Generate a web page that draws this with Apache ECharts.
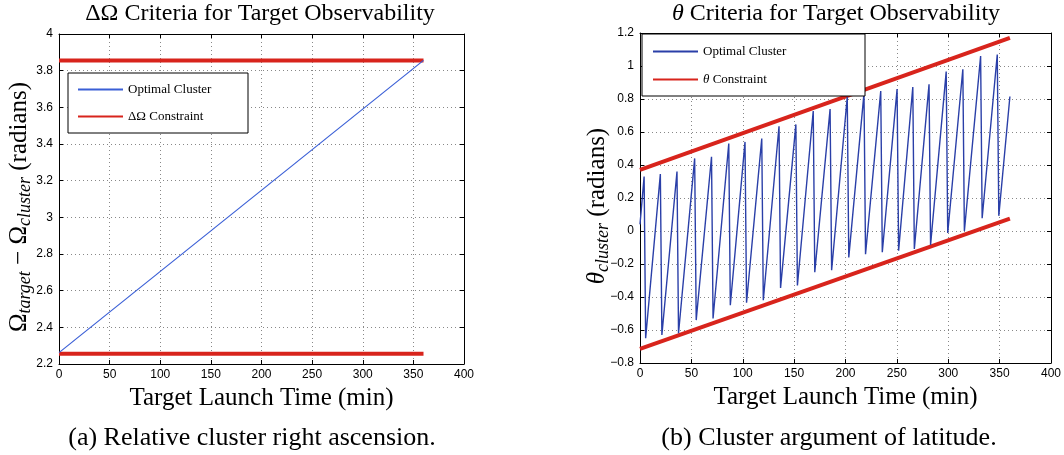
<!DOCTYPE html>
<html>
<head>
<meta charset="utf-8">
<script src="https://cdn.jsdelivr.net/npm/echarts@6/dist/echarts.min.js"></script>
<style>
  html, body { margin: 0; padding: 0; background: #fff; }
  #main { width: 1064px; height: 455px; }
</style>
</head>
<body>
<div id="main"></div>
<script>
// left chart: delta Omega
var omegaTime = [0, 360];
var omegaCluster = [2.262, 3.856];
var omegaUpper = [3.855, 3.855];
var omegaLower = [2.256, 2.256];

// right chart: theta (peak / trough corners)
var thetaTime = [0, 4, 5.5, 19.8, 21.3, 36, 37.5, 53.2, 54.7, 69.6, 71.1, 86.4, 87.9,
  102.2, 103.7, 118.5, 120, 135.3, 136.8, 151.7, 153.2, 168.6, 170.1, 185, 186.5,
  201.7, 203.2, 218, 219.5, 234.3, 235.8, 250.2, 251.7, 265.5, 267, 281.3, 282.8,
  298, 299.5, 314.2, 315.7, 331.5, 333, 347.7, 349.2, 360];
var thetaCluster = [0.04, 0.33, -0.65, 0.345, -0.63, 0.36, -0.62, 0.44, -0.54, 0.45, -0.53,
  0.53, -0.45, 0.54, -0.435, 0.56, -0.42, 0.635, -0.345, 0.646, -0.33, 0.727, -0.25,
  0.739, -0.238, 0.812, -0.16, 0.834, -0.141, 0.848, -0.129, 0.86, -0.119, 0.873, -0.109,
  0.889, -0.085, 0.966, -0.012, 0.98, 0.0, 1.06, 0.077, 1.07, 0.092, 0.815];
var thetaLimTime = [0, 360];
var thetaUpper = [0.37, 1.17];
var thetaLower = [-0.715, 0.075];

var xTicks = { min: 0, max: 400, interval: 50 };
var omegaTicks = { min: 2.2, max: 4, interval: 0.2 };
var thetaTicks = { min: -0.8, max: 1.2, interval: 0.2 };

function pairs(xs, ys) {
  return xs.map(function (x, i) { return [x, ys[i]]; });
}

var serif = 'Liberation Serif';
var sans = 'Liberation Sans';
var red = '#d8241c';

function fmt(v) {
  return String(+v.toFixed(1)).replace('-', '\u2212');
}

function mainX(grid, name) {
  return {
    type: 'value', gridIndex: grid, min: xTicks.min, max: xTicks.max, interval: xTicks.interval,
    name: name, nameLocation: 'middle', nameGap: 21,
    nameTextStyle: { fontFamily: serif, fontSize: 25, color: '#000' },
    axisLine: { show: true, onZero: false, lineStyle: { color: '#000', width: 1 } },
    axisTick: { show: true, inside: true, length: 4, lineStyle: { color: '#000' } },
    axisLabel: { fontFamily: sans, fontSize: 12, color: '#000', margin: 5 },
    splitLine: { show: true, lineStyle: { color: '#888', type: [1, 3] } }
  };
}
function topX(grid) {
  return {
    type: 'value', gridIndex: grid, position: 'top', min: xTicks.min, max: xTicks.max, interval: xTicks.interval,
    axisLine: { show: true, onZero: false, lineStyle: { color: '#000', width: 1 } },
    axisTick: { show: true, inside: true, length: 4, lineStyle: { color: '#000' } },
    axisLabel: { show: false }, splitLine: { show: false }
  };
}
function mainY(grid, t) {
  return {
    type: 'value', gridIndex: grid, min: t.min, max: t.max, interval: t.interval,
    axisLine: { show: true, onZero: false, lineStyle: { color: '#000', width: 1 } },
    axisTick: { show: true, inside: true, length: 4, lineStyle: { color: '#000' } },
    axisLabel: { fontFamily: sans, fontSize: 12, color: '#000', margin: 6, formatter: fmt },
    splitLine: { show: true, lineStyle: { color: '#888', type: [1, 3] } }
  };
}
function rightY(grid, t) {
  return {
    type: 'value', gridIndex: grid, position: 'right', min: t.min, max: t.max, interval: t.interval,
    axisLine: { show: true, onZero: false, lineStyle: { color: '#000', width: 1 } },
    axisTick: { show: true, inside: true, length: 4, lineStyle: { color: '#000' } },
    axisLabel: { show: false }, splitLine: { show: false }
  };
}

var nameRich = {
  m: { fontFamily: serif, fontSize: 25, lineHeight: 30, verticalAlign: 'middle', fill: '#000' },
  s: { fontFamily: serif, fontSize: 18, lineHeight: 18, fontStyle: 'italic', verticalAlign: 'bottom', fill: '#000' },
  i: { fontFamily: serif, fontSize: 25, lineHeight: 30, fontStyle: 'italic', verticalAlign: 'middle', fill: '#000' }
};

var chart = echarts.init(document.getElementById('main'));
var option = {
  animation: false,
  backgroundColor: '#fff',
  grid: [
    { left: 59, right: 600, top: 34, bottom: 91, outerBoundsMode: 'none', containLabel: false },
    { left: 640, right: 13, top: 33, bottom: 92, outerBoundsMode: 'none', containLabel: false }
  ],
  xAxis: [mainX(0, 'Target Launch Time (min)'), topX(0), mainX(1, 'Target Launch Time (min)'), topX(1)],
  yAxis: [mainY(0, omegaTicks), rightY(0, omegaTicks), mainY(1, thetaTicks), rightY(1, thetaTicks)],
  legend: [
    {
      data: ['Optimal Cluster', '\u0394\u03A9 Constraint'],
      orient: 'vertical', left: 77, top: 83, itemWidth: 45, itemHeight: 14, itemGap: 14, padding: 0,
      itemStyle: { opacity: 0 },
      textStyle: { fontFamily: serif, fontSize: 13, color: '#000' }, z: 10
    },
    {
      data: ['Optimal Cluster ', '\u03B8 Constraint'],
      orient: 'vertical', left: 652, top: 45, itemWidth: 45, itemHeight: 14, itemGap: 15, padding: 0,
      itemStyle: { opacity: 0 },
      formatter: function (n) {
        return n.indexOf('\u03B8') === 0 ? '{it|\u03B8} Constraint' : n;
      },
      textStyle: {
        fontFamily: serif, fontSize: 13, color: '#000',
        rich: { it: { fontFamily: serif, fontSize: 13, fontStyle: 'italic', color: '#000' } }
      }, z: 10
    }
  ],
  graphic: [
    { type: 'rect', z: 8, shape: { x: 68, y: 73, width: 180, height: 60 },
      style: { fill: '#fff', stroke: '#000', lineWidth: 1 } },
    { type: 'rect', z: 8, shape: { x: 642, y: 34, width: 223, height: 62 },
      style: { fill: '#fff', stroke: '#000', lineWidth: 1 } },
    { type: 'text', z: 10,
      style: { text: '\u0394\u03A9 Criteria for Target Observability', x: 260, y: 2, textAlign: 'center',
        fontFamily: serif, fontSize: 24, fill: '#000' } },
    { type: 'text', z: 10,
      style: { text: '{i|\u03B8} Criteria for Target Observability', x: 836, y: 2, textAlign: 'center',
        fontFamily: serif, fontSize: 24, fill: '#000',
        rich: { i: { fontFamily: serif, fontSize: 24, fontStyle: 'italic', fill: '#000' } } } },
    { type: 'text', z: 10, x: 19, y: 207, rotation: Math.PI / 2,
      style: { text: '{m|\u03A9}{s|target}{m| \u2212 \u03A9}{s|cluster}{m| (radians)}',
        textAlign: 'center', textVerticalAlign: 'middle', rich: nameRich } },
    { type: 'text', z: 10, x: 597, y: 206, rotation: Math.PI / 2,
      style: { text: '{i|\u03B8}{s|cluster}{m| (radians)}',
        textAlign: 'center', textVerticalAlign: 'middle', rich: nameRich } },
    { type: 'text', z: 10,
      style: { text: '(a) Relative cluster right ascension.', x: 252, y: 425, textAlign: 'center',
        fontFamily: serif, fontSize: 26, fill: '#000' } },
    { type: 'text', z: 10,
      style: { text: '(b) Cluster argument of latitude.', x: 829, y: 425, textAlign: 'center',
        fontFamily: serif, fontSize: 26, fill: '#000' } }
  ],
  series: [
    { name: '\u0394\u03A9 Constraint', type: 'line', xAxisIndex: 0, yAxisIndex: 0, symbol: 'none',
      data: pairs(omegaTime, omegaUpper), lineStyle: { color: red, width: 4 }, itemStyle: { color: red } },
    { name: '\u0394\u03A9 Constraint', type: 'line', xAxisIndex: 0, yAxisIndex: 0, symbol: 'none',
      data: pairs(omegaTime, omegaLower), lineStyle: { color: red, width: 4 }, itemStyle: { color: red } },
    { name: 'Optimal Cluster', type: 'line', xAxisIndex: 0, yAxisIndex: 0, symbol: 'none', z: 3,
      data: pairs(omegaTime, omegaCluster), lineStyle: { color: '#3a5fd6', width: 1.2 }, itemStyle: { color: '#3a5fd6' } },
    { name: '\u03B8 Constraint', type: 'line', xAxisIndex: 2, yAxisIndex: 2, symbol: 'none',
      data: pairs(thetaLimTime, thetaUpper), lineStyle: { color: red, width: 4 }, itemStyle: { color: red } },
    { name: '\u03B8 Constraint', type: 'line', xAxisIndex: 2, yAxisIndex: 2, symbol: 'none',
      data: pairs(thetaLimTime, thetaLower), lineStyle: { color: red, width: 4 }, itemStyle: { color: red } },
    { name: 'Optimal Cluster ', type: 'line', xAxisIndex: 2, yAxisIndex: 2, symbol: 'none', z: 3,
      data: pairs(thetaTime, thetaCluster), lineStyle: { color: '#2a3fa8', width: 1.4 }, itemStyle: { color: '#2a3fa8' } }
  ]
};
chart.setOption(option);
</script>
</body>
</html>
